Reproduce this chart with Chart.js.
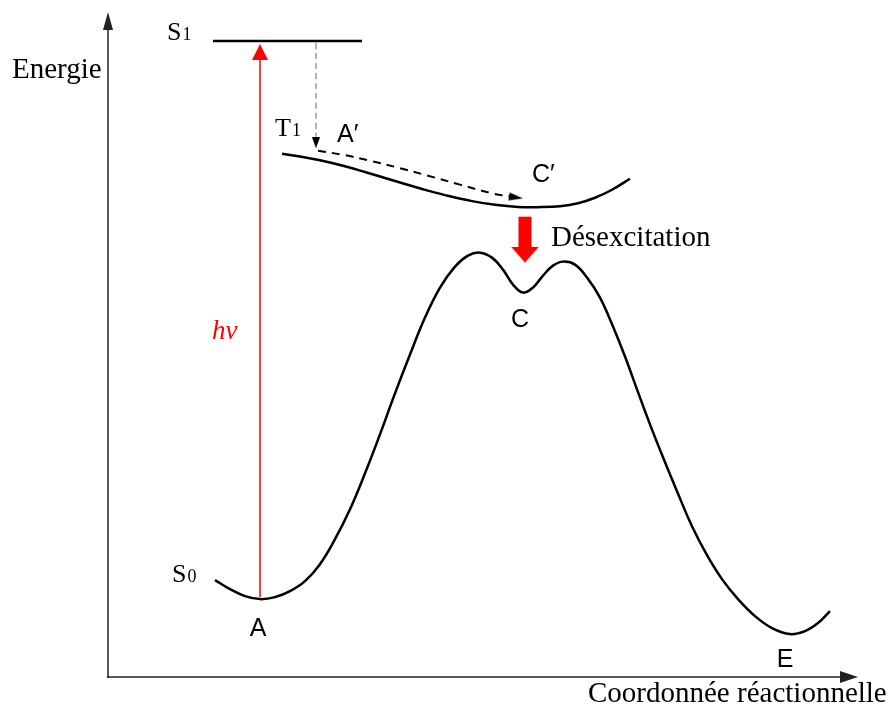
<!DOCTYPE html>
<html lang="fr">

<head>
    <meta charset="UTF-8">
    <title>Diagramme d'énergie</title>
    <script src="https://cdn.jsdelivr.net/npm/chart.js"></script>
    <style>
        html, body { margin: 0; padding: 0; background: #fff; }
        canvas { display: block; }
    </style>
</head>

<body>
    <canvas id="energieChart" width="893" height="708"></canvas>

    <script>
        // courbes (x = coordonnée réactionnelle, y = énergie)
        const courbeS0 = [[107, 97], [122, 88], [137, 81], [152, 78], [167, 80], [182, 86], [197, 96], [212, 113],
            [227, 138], [242, 168], [257, 204], [272, 243], [287, 284], [302, 323], [317, 360], [332, 390],
            [347, 411], [360, 422], [372, 425], [384, 420], [395, 408], [405, 393], [415, 385], [425, 390],
            [435, 402], [445, 412], [455, 416], [467, 413], [479, 400], [492, 380], [505, 351], [517, 321],
            [529, 288], [542, 253], [555, 220], [569, 186], [584, 151], [599, 122], [614, 98], [630, 78],
            [647, 61], [664, 49], [682, 43], [697, 46], [710, 54], [722, 66]];
        const courbeT1 = [[174, 524], [192, 521.3], [212, 517.5], [235, 512], [257, 505.8], [277, 499.8], [297, 493.8],
            [319, 487.4], [342, 481.4], [364, 476.6], [387, 472.9], [410, 470.8], [432, 470.6], [452, 471.5],
            [470, 474.5], [487, 480], [504, 488], [522, 499]];
        const niveauS1 = [[105, 637], [254, 637]];
        const cheminAC = [[210, 527], [235, 523], [262, 517.1], [292, 509.6], [319, 502.3], [352, 493.1], [385, 484.2], [408, 480.3]];
        const flecheHv = [[152, 80], [152, 626]];
        const flecheS1T1 = [[208, 635], [208, 535]];
        const flecheDesex = [[417, 461], [417, 423]];

        // textes
        const textesSerif = [
            { t: 'Energie', x: -96, y: 600 },
            { t: 'Coordonnée réactionnelle', x: 480, y: -25 },
            { t: 'Désexcitation', x: 443, y: 432 }
        ];
        const etats = [
            { t: 'S', sub: '1', x: 59, y: 638 },
            { t: 'T', sub: '1', x: 167, y: 542 },
            { t: 'S', sub: '0', x: 64, y: 95 }
        ];
        const points = [
            { t: 'A', x: 150, y: 41 },
            { t: 'C', x: 412, y: 351 },
            { t: 'E', x: 677, y: 10 },
            { t: 'A′', x: 229, y: 536 },
            { t: 'C′', x: 424, y: 496 }
        ];

        function toXY(arr) {
            return arr.map(p => ({ x: p[0], y: p[1] }));
        }

        // tête de flèche (triangle vers le haut)
        function tete(w, h, color) {
            const c = document.createElement('canvas');
            c.width = w;
            c.height = h;
            const g = c.getContext('2d');
            g.fillStyle = color;
            g.beginPath();
            g.moveTo(w / 2, 0);
            g.lineTo(w, h);
            g.lineTo(0, h);
            g.closePath();
            g.fill();
            return c;
        }

        function ligne(data, color, width, extra) {
            return Object.assign({
                data: toXY(data),
                showLine: true,
                borderColor: color,
                borderWidth: width,
                pointRadius: 0,
                tension: 0.4,
                clip: false
            }, extra || {});
        }

        function fleche(data, color, width, head, rot, extra) {
            return ligne(data, color, width, Object.assign({
                pointStyle: head,
                pointRadius: data.map((p, i) => i == data.length - 1 ? 10 : 0),
                pointRotation: rot,
                borderCapStyle: 'butt'
            }, extra || {}));
        }

        const textPlugin = {
            id: 'textes',
            afterDatasetsDraw(chart) {
                const ctx = chart.ctx;
                const sx = chart.scales.x, sy = chart.scales.y;
                const area = chart.chartArea;

                // axes avec flèches
                ctx.save();
                ctx.strokeStyle = '#222';
                ctx.fillStyle = '#222';
                ctx.lineWidth = 1.5;
                ctx.beginPath();
                ctx.moveTo(area.left, area.bottom + 1);
                ctx.lineTo(area.left, area.top + 12);
                ctx.moveTo(area.left - 1, area.bottom);
                ctx.lineTo(area.right - 14, area.bottom);
                ctx.stroke();
                ctx.beginPath();
                ctx.moveTo(area.left, area.top);
                ctx.lineTo(area.left + 5, area.top + 18);
                ctx.lineTo(area.left - 5, area.top + 18);
                ctx.closePath();
                ctx.fill();
                ctx.beginPath();
                ctx.moveTo(area.right, area.bottom);
                ctx.lineTo(area.right - 18, area.bottom - 6);
                ctx.lineTo(area.right - 18, area.bottom + 6);
                ctx.closePath();
                ctx.fill();

                ctx.textBaseline = 'alphabetic';
                ctx.fillStyle = '#000';
                ctx.textAlign = 'left';
                ctx.font = '29px "Liberation Serif", serif';
                textesSerif.forEach(l => ctx.fillText(l.t, sx.getPixelForValue(l.x), sy.getPixelForValue(l.y)));

                etats.forEach(l => {
                    const px = sx.getPixelForValue(l.x), py = sy.getPixelForValue(l.y);
                    ctx.font = '26px "Liberation Serif", serif';
                    ctx.fillText(l.t, px, py);
                    const w = ctx.measureText(l.t).width;
                    ctx.font = '18px "Liberation Serif", serif';
                    ctx.fillText(l.sub, px + w + 1, py);
                });

                ctx.fillStyle = '#ff0000';
                ctx.font = 'italic 27px "Liberation Serif", serif';
                ctx.fillText('hν', sx.getPixelForValue(104), sy.getPixelForValue(339));

                ctx.fillStyle = '#000';
                ctx.font = '25px "Liberation Sans", sans-serif';
                points.forEach(l => {
                    ctx.textAlign = l.t.length > 1 ? 'left' : 'center';
                    ctx.fillText(l.t, sx.getPixelForValue(l.x), sy.getPixelForValue(l.y));
                });
                ctx.restore();
            }
        };

        const ctx = document.getElementById('energieChart').getContext('2d');
        const chart = new Chart(ctx, {
            type: 'scatter',
            data: {
                datasets: [
                    ligne(courbeS0, '#000', 2.5),
                    ligne(courbeT1, '#000', 2.5),
                    ligne(niveauS1, '#000', 2.5),
                    fleche(flecheHv, '#ff0000', 1.5, tete(16, 16, '#ff0000'), 0),
                    fleche(flecheS1T1, '#9a9a9a', 1.5, tete(8, 11, '#000'), 180, { borderDash: [6, 4] }),
                    fleche(cheminAC, '#000', 2, tete(8, 14, '#000'), 98, { borderDash: [8, 6] }),
                    fleche(flecheDesex, '#ff0000', 13, tete(28, 16, '#ff0000'), 180)
                ]
            },
            options: {
                responsive: false,
                animation: false,
                events: [],
                layout: {
                    autoPadding: false,
                    padding: { left: 108, right: 35, top: 12, bottom: 31 }
                },
                scales: {
                    x: { type: 'linear', min: 0, max: 750, display: false },
                    y: { type: 'linear', min: 0, max: 666, display: false }
                },
                plugins: {
                    legend: { display: false },
                    tooltip: { enabled: false }
                }
            },
            plugins: [textPlugin]
        });
    </script>
</body>

</html>
